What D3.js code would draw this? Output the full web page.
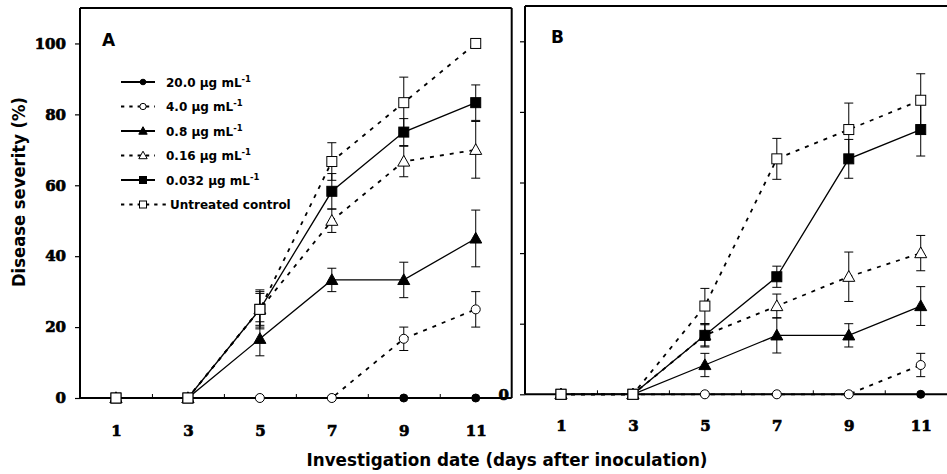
<!DOCTYPE html>
<html>
<head>
<meta charset="utf-8">
<script src="https://cdn.jsdelivr.net/npm/d3@7"></script>
<style>
  body { margin: 0; background: #fff; }
  svg { display: block; }
</style>
</head>
<body>
<div id="canvas"></div>
<script>
// days of investigation and axis ticks
const days = [1, 3, 5, 7, 9, 11];
const xTicks = [1, 3, 5, 7, 9, 11];
const yTicks = [0, 20, 40, 60, 80, 100];
const legendLabels = ["20.0 μg mL-1", "4.0 μg mL-1", "0.8 μg mL-1", "0.16 μg mL-1", "0.032 μg mL-1", "Untreated control"];

// panel A (mean, error)
const a20 = [0, 0, 0, 0, 0, 0];
const a20Err = [0, 0, 0, 0, 0, 0];
const a4 = [0, 0, 0, 0, 16.7, 25];
const a4Err = [0, 0, 0, 0, 3.3, 5];
const a08 = [0, 0, 16.7, 33.3, 33.3, 45];
const a08Err = [0, 0, 4.8, 3.3, 5, 8];
const a016 = [0, 0, 25, 50, 66.7, 70];
const a016Err = [0, 0, 5.5, 3.3, 4.3, 8];
const a0032 = [0, 0, 25, 58.3, 75, 83.3];
const a0032Err = [0, 0, 4.5, 5, 3.8, 5];
const aCtrl = [0, 0, 25, 66.7, 83.3, 100];
const aCtrlErr = [0, 0, 5, 5.3, 7.2, 0];

// panel B (mean, error)
const b20 = [0, 0, 0, 0, 0, 0];
const b20Err = [0, 0, 0, 0, 0, 0];
const b4 = [0, 0, 0, 0, 0, 8.3];
const b4Err = [0, 0, 0, 0, 0, 3.3];
const b08 = [0, 0, 8.3, 16.7, 16.7, 25];
const b08Err = [0, 0, 3.3, 5, 3.3, 5.5];
const b016 = [0, 0, 16.7, 25, 33.3, 40];
const b016Err = [0, 0, 3, 3.4, 7, 5];
const b0032 = [0, 0, 16.7, 33.3, 66.7, 75];
const b0032Err = [0, 0, 3.3, 3, 5.5, 7.5];
const bCtrl = [0, 0, 25, 66.7, 75, 83.3];
const bCtrlErr = [0, 0, 5, 5.8, 7.5, 7.5];

// marker style per series (same order as legend)
const styles = [
    { shape: "circle", fill: "#000", dash: null, size: 4 },
    { shape: "circle", fill: "#fff", dash: "4,6", size: 4.5 },
    { shape: "triangle", fill: "#000", dash: null, size: 6 },
    { shape: "triangle", fill: "#fff", dash: "4,6", size: 6 },
    { shape: "square", fill: "#000", dash: null, size: 5 },
    { shape: "square", fill: "#fff", dash: "4,6", size: 5 }
];

const width = 947;
const height = 474;

const svg = d3.select("#canvas").append("svg")
    .attr("width", width)
    .attr("height", height);

function marker(g, shape, cx, cy, s, fill) {
    if (shape === "circle") {
        g.append("circle").attr("cx", cx).attr("cy", cy).attr("r", s)
            .attr("fill", fill).attr("stroke", "#000").attr("stroke-width", 1);
    } else if (shape === "square") {
        g.append("rect").attr("x", cx - s).attr("y", cy - s)
            .attr("width", 2 * s).attr("height", 2 * s)
            .attr("fill", fill).attr("stroke", "#000").attr("stroke-width", 1);
    } else {
        const h = s * 1.7;
        g.append("path")
            .attr("d", `M${cx},${cy - h * 0.6}L${cx + s},${cy + h * 0.45}L${cx - s},${cy + h * 0.45}Z`)
            .attr("fill", fill).attr("stroke", "#000").attr("stroke-width", 1);
    }
}

function styleTickText(sel) {
    sel.attr("font-family", "DejaVu Serif")
        .attr("font-weight", "bold")
        .attr("font-size", 15)
        .attr("stroke", "#000")
        .attr("stroke-width", 0.7);
}

function drawPanel(opts) {
    const x = d3.scaleLinear().domain([0, 12]).range([opts.left, opts.right]);
    const y = d3.scaleLinear().domain([0, 110]).range([opts.bottom, opts.top]);
    const g = svg.append("g");

    // y axis ticks
    const yAxis = g.append("g")
        .attr("transform", `translate(${opts.left},0)`)
        .call(d3.axisLeft(y).tickValues(yTicks).tickSize(5).tickPadding(opts.yPad)
            .tickFormat(opts.yFormat));
    yAxis.select(".domain").remove();
    yAxis.selectAll("line").attr("stroke-width", 1.2);
    styleTickText(yAxis.selectAll("text"));

    // x axis ticks
    const xAxis = g.append("g")
        .attr("transform", `translate(0,${opts.bottom})`)
        .call(d3.axisBottom(x).tickValues(d3.range(1, 12)).tickSize(-4).tickPadding(opts.xPad)
            .tickFormat(d => xTicks.includes(d) ? d : ""));
    xAxis.select(".domain").remove();
    xAxis.selectAll("line").attr("stroke-width", 1);
    styleTickText(xAxis.selectAll("text"));

    // frame
    const frame = g.append("g").attr("fill", "none").attr("stroke", "#000").attr("stroke-width", 2);
    frame.append("line").attr("x1", opts.left).attr("x2", opts.left).attr("y1", opts.top).attr("y2", opts.bottom);
    frame.append("line").attr("x1", opts.left).attr("x2", opts.right).attr("y1", opts.bottom).attr("y2", opts.bottom);
    frame.append("line").attr("x1", opts.left).attr("x2", opts.right).attr("y1", opts.top).attr("y2", opts.top);
    if (opts.rightBorder) {
        frame.append("line").attr("x1", opts.right).attr("x2", opts.right).attr("y1", opts.top).attr("y2", opts.bottom);
    }

    // series
    const line = d3.line().x(d => x(d.day)).y(d => y(d.v));
    opts.series.forEach((s, i) => {
        const st = styles[i];
        const pts = days.map((d, j) => ({ day: d, v: s.values[j], e: s.err[j] }));
        const sg = g.append("g");
        pts.filter(p => p.e > 0).forEach(p => {
            const eb = sg.append("g").attr("stroke", "#000").attr("stroke-width", 1);
            eb.append("line").attr("x1", x(p.day)).attr("x2", x(p.day))
                .attr("y1", y(p.v + p.e)).attr("y2", y(p.v - p.e));
            [p.v + p.e, p.v - p.e].forEach(v => {
                eb.append("line").attr("x1", x(p.day) - 4.5).attr("x2", x(p.day) + 4.5)
                    .attr("y1", y(v)).attr("y2", y(v));
            });
        });
        sg.append("path").datum(pts)
            .attr("d", line)
            .attr("fill", "none")
            .attr("stroke", "#000")
            .attr("stroke-width", st.dash ? 1.8 : 1.3)
            .attr("stroke-dasharray", st.dash);
        pts.forEach(p => marker(sg, st.shape, x(p.day), y(p.v), st.size, st.fill));
    });

    g.append("text")
        .attr("x", opts.labelX)
        .attr("y", opts.labelY)
        .attr("font-family", "DejaVu Sans")
        .attr("font-weight", "bold")
        .attr("font-size", 17)
        .text(opts.label);

    return { x, y };
}

drawPanel({
    left: 80, right: 511.7, top: 8, bottom: 398,
    yFormat: d3.format("d"), yPad: 9, rightBorder: true, xPad: 27,
    label: "A", labelX: 102, labelY: 46,
    series: [
        { values: a20, err: a20Err },
        { values: a4, err: a4Err },
        { values: a08, err: a08Err },
        { values: a016, err: a016Err },
        { values: a0032, err: a0032Err },
        { values: aCtrl, err: aCtrlErr }
    ]
});

drawPanel({
    left: 525, right: 956.7, top: 6, bottom: 394.3,
    yFormat: d => d === 0 ? "0" : "", yPad: 11, rightBorder: false, xPad: 26,
    label: "B", labelX: 551, labelY: 43,
    series: [
        { values: b20, err: b20Err },
        { values: b4, err: b4Err },
        { values: b08, err: b08Err },
        { values: b016, err: b016Err },
        { values: b0032, err: b0032Err },
        { values: bCtrl, err: bCtrlErr }
    ]
});

// legend in panel A
const legend = svg.append("g");
legendLabels.forEach((lab, i) => {
    const st = styles[i];
    const ly = 82 + i * 24.5;
    const lg = legend.append("g");
    lg.append("line")
        .attr("x1", 121).attr("x2", i === 5 ? 166 : 155)
        .attr("y1", ly).attr("y2", ly)
        .attr("stroke", "#000")
        .attr("stroke-width", 2)
        .attr("stroke-dasharray", st.dash ? "3.3,5" : null);
    marker(lg, st.shape, 143, ly, st.size * 0.7, st.fill);
    const t = lg.append("text")
        .attr("x", i === 5 ? 170 : 166)
        .attr("y", ly + 4.5)
        .attr("font-family", "DejaVu Sans")
        .attr("font-weight", "bold")
        .attr("font-size", 12);
    if (lab.endsWith("-1")) {
        t.append("tspan").text(lab.slice(0, -2));
        t.append("tspan").attr("dy", -5).attr("font-size", 8.5).text("-1");
    } else {
        t.text(lab);
    }
});

// axis titles
svg.append("text")
    .attr("transform", "translate(25,192) rotate(-90)")
    .attr("text-anchor", "middle")
    .attr("font-family", "DejaVu Sans")
    .attr("font-weight", "bold")
    .attr("font-size", 17)
    .attr("textLength", 190)
    .attr("lengthAdjust", "spacingAndGlyphs")
    .text("Disease severity (%)");

svg.append("text")
    .attr("x", 507)
    .attr("y", 466)
    .attr("text-anchor", "middle")
    .attr("font-family", "DejaVu Sans")
    .attr("font-weight", "bold")
    .attr("font-size", 18)
    .attr("textLength", 401)
    .attr("lengthAdjust", "spacingAndGlyphs")
    .text("Investigation date (days after inoculation)");
</script>
</body>
</html>
